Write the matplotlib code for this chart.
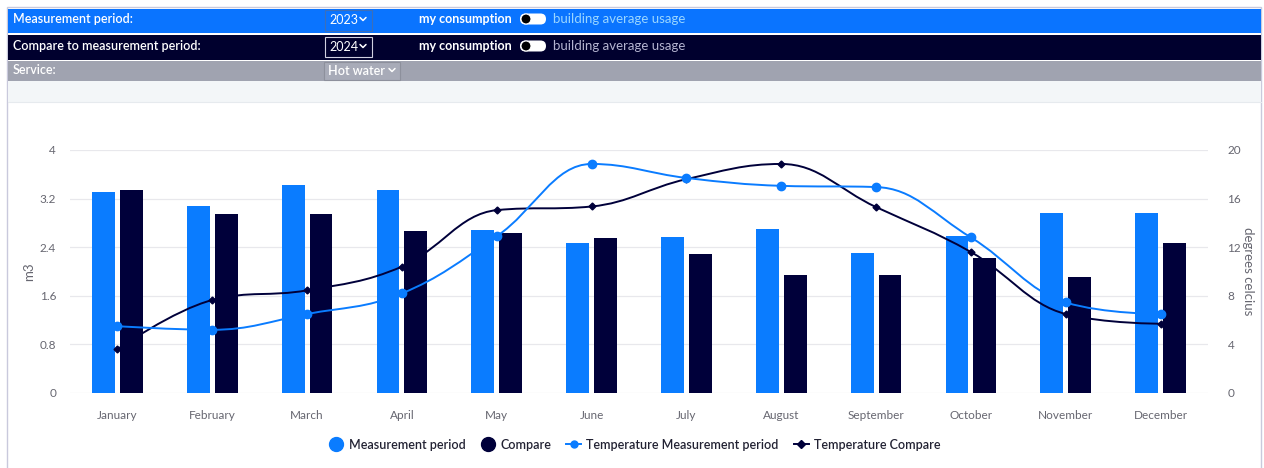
import numpy as np
import matplotlib.pyplot as plt
from matplotlib.path import Path
from matplotlib.patches import PathPatch, Rectangle, FancyBboxPatch
from matplotlib.lines import Line2D

plt.rcParams['font.family'] = ['Lato', 'DejaVu Sans']

# --- Data ---
months = ['January', 'February', 'March', 'April', 'May', 'June', 'July',
          'August', 'September', 'October', 'November', 'December']
usage_measure = [3.31, 3.07, 3.42, 3.34, 2.68, 2.47, 2.57, 2.70, 2.31, 2.58, 2.96, 2.96]
usage_compare = [3.34, 2.94, 2.95, 2.66, 2.63, 2.55, 2.28, 1.94, 1.95, 2.22, 1.91, 2.47]
temp_measure = [5.5, 5.2, 6.5, 8.2, 12.9, 18.85, 17.7, 17.05, 16.95, 12.8, 7.45, 6.5]
temp_compare = [3.6, 7.65, 8.45, 10.4, 15.05, 15.35, 17.6, 18.85, 15.3, 11.6, 6.5, 5.7]
left_ticks = [0, 0.8, 1.6, 2.4, 3.2, 4]
right_ticks = [0, 4, 8, 12, 16, 20]

BLUE = '#0a7cff'
NAVY = '#00003a'
GRID = '#e8e8ec'
TICK = '#666670'


def spline_path(xs, ys, smoothing=1.5):
    """Highcharts-like spline as cubic bezier path."""
    n = len(xs)
    denom = smoothing + 1
    left = [(x, y) for x, y in zip(xs, ys)]
    right = [(x, y) for x, y in zip(xs, ys)]
    for i in range(1, n - 1):
        x, y = xs[i], ys[i]
        px, py = xs[i - 1], ys[i - 1]
        nx, ny = xs[i + 1], ys[i + 1]
        lcx = (smoothing * x + px) / denom
        lcy = (smoothing * y + py) / denom
        rcx = (smoothing * x + nx) / denom
        rcy = (smoothing * y + ny) / denom
        if rcx != lcx:
            corr = (rcy - lcy) * (rcx - x) / (rcx - lcx) + y - rcy
            lcy += corr
            rcy += corr
            if lcy > py and lcy > y:
                lcy = max(py, y)
                rcy = 2 * y - lcy
            elif lcy < py and lcy < y:
                lcy = min(py, y)
                rcy = 2 * y - lcy
            if rcy > ny and rcy > y:
                rcy = max(ny, y)
                lcy = 2 * y - rcy
            elif rcy < ny and rcy < y:
                rcy = min(ny, y)
                lcy = 2 * y - rcy
        left[i] = (lcx, lcy)
        right[i] = (rcx, rcy)
    verts = [(xs[0], ys[0])]
    codes = [Path.MOVETO]
    for i in range(1, n):
        verts += [right[i - 1], left[i], (xs[i], ys[i])]
        codes += [Path.CURVE4] * 3
    return Path(verts, codes)


def chevron(a, x0, yc, col='white'):
    a.plot([x0, x0 + 3, x0 + 6], [yc - 1.5, yc + 1.5, yc - 1.5], color=col, lw=1.1,
           solid_capstyle='round', solid_joinstyle='round')


fig = plt.figure(figsize=(12.64, 4.68), dpi=100)

# --- background / header (pixel coords) ---
bg = fig.add_axes([0, 0, 1, 1], zorder=0)
bg.set_xlim(0, 1264)
bg.set_ylim(468, 0)
bg.axis('off')
bg.add_patch(Rectangle((7, 7), 1254, 470, fc='white', ec='#c9c9dc', lw=1))
bg.add_patch(Rectangle((8, 9), 1253, 24, fc='#0a74ff', ec='none'))
bg.add_patch(Rectangle((8, 35), 1253, 25, fc='#00002e', ec='none'))
bg.add_patch(Rectangle((8, 61), 1253, 20, fc='#a0a3b0', ec='none'))
bg.add_patch(Rectangle((8, 81), 1253, 21, fc='#f3f6f8', ec='none'))
bg.plot([8, 1261], [102, 102], color='#e6eaee', lw=0.8)

hdr = dict(color='white', fontsize=9, fontweight='semibold', va='center')
bg.text(13, 19, 'Measurement period:', **hdr)
bg.text(13, 46, 'Compare to measurement period:', **hdr)
bg.text(13, 70, 'Service:', **hdr)

bg.add_patch(Rectangle((325, 10), 47, 21, fc='none', ec='#3d6fb8', lw=0.8))
bg.text(329, 20, '2023', color='white', fontsize=9, va='center')
chevron(bg, 360, 19)
bg.add_patch(Rectangle((325, 37), 47, 20, fc='none', ec='#d0d0e0', lw=0.8))
bg.text(329, 47, '2024', color='white', fontsize=9, va='center')
chevron(bg, 360, 46)
bg.add_patch(Rectangle((324, 62), 76, 18, fc='#a8abb8', ec='#8d909c', lw=0.8))
bg.text(328, 71, 'Hot water', color='white', fontsize=9, fontweight='semibold', va='center')
chevron(bg, 389, 70)

for yc, col in [(19, '#9ad6ff'), (46, '#b4b4d0')]:
    bg.text(419, yc, 'my consumption', color='white', fontsize=9, fontweight='bold', va='center')
    bg.add_patch(FancyBboxPatch((520, yc - 5.5), 26, 11, boxstyle='round,pad=0,rounding_size=5.5',
                                fc='white', ec='none'))
    bg.add_patch(plt.Circle((526, yc), 5, fc='black', ec='white', lw=0.8))
    bg.text(553, yc, 'building average usage', color=col, fontsize=9.5, va='center')

# --- chart ---
ax = fig.add_axes([0.0554, 0.1603, 0.9003, 0.5192], zorder=1)
ax.patch.set_alpha(0)
x = np.arange(len(months))
bw = 0.24
off = 0.147
ax.bar(x - off, usage_measure, bw, color=BLUE, zorder=2)
ax.bar(x + off, usage_compare, bw, color=NAVY, zorder=2)
ax.set_xlim(-0.5, len(months) - 0.5)
ax.set_ylim(0, 4)
ax.set_yticks(left_ticks)
ax.set_yticklabels(['0', '0.8', '1.6', '2.4', '3.2', '4'])
ax.set_xticks(x)
ax.set_xticklabels(months)
ax.grid(axis='y', color=GRID, lw=0.9, zorder=0)
ax.set_axisbelow(True)
for s in ax.spines.values():
    s.set_visible(False)
ax.tick_params(axis='both', length=0, colors=TICK, labelsize=8.5)
ax.tick_params(axis='x', pad=12)
ax.tick_params(axis='y', pad=10)
ax.set_ylabel('m3', color=TICK, fontsize=9.5, labelpad=3)

ax2 = ax.twinx()
ax2.set_ylim(0, 20)
ax2.set_yticks(right_ticks)
for s in ax2.spines.values():
    s.set_visible(False)
ax2.tick_params(axis='y', length=0, colors=TICK, labelsize=8.5, pad=14)
ax2.set_ylabel('degrees celcius', color=TICK, fontsize=9.5, rotation=270, labelpad=9)

ax2.add_patch(PathPatch(spline_path(x, temp_compare), fc='none', ec=NAVY, lw=1.4, zorder=3))
ax2.plot(x, temp_compare, ls='none', marker='D', ms=3.5, color=NAVY, zorder=4)
ax2.add_patch(PathPatch(spline_path(x, temp_measure), fc='none', ec=BLUE, lw=1.4, zorder=3))
ax2.plot(x, temp_measure, ls='none', marker='o', ms=6, color=BLUE, zorder=4)

handles = [
    Line2D([], [], ls='none', marker='o', ms=10, color=BLUE),
    Line2D([], [], ls='none', marker='o', ms=10, color=NAVY),
    Line2D([], [], color=BLUE, lw=1.4, marker='o', ms=5),
    Line2D([], [], color=NAVY, lw=1.4, marker='D', ms=4),
]
labels = ['Measurement period', 'Compare', 'Temperature Measurement period', 'Temperature Compare']
fig.legend(handles, labels, loc='center', bbox_to_anchor=(0.502, 0.05), ncol=4, frameon=False,
           handlelength=1.2, handletextpad=0.4, columnspacing=1.2,
           labelcolor='#222233', prop={'weight': 'semibold', 'size': 9})

fig.savefig('out.png', dpi=100)
